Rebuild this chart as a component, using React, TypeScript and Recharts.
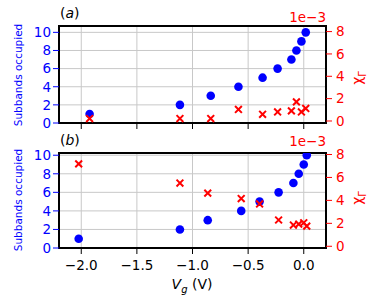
import { ScatterChart, Scatter, XAxis, YAxis, CartesianGrid, ReferenceArea } from "recharts";

// panel (a)
const vgA = [-1.925, -1.113, -0.836, -0.587, -0.37, -0.235, -0.111, -0.066, -0.021, 0.018];
const subbandsA = [1, 2, 3, 4, 5, 6, 7, 8, 9, 10];
const chiA = [0.22, 0.22, 0.22, 1.03, 0.6, 0.81, 0.9, 1.71, 0.81, 1.12];

// panel (b)
const vgB = [-2.023, -1.113, -0.863, -0.562, -0.397, -0.226, -0.093, -0.045, 0.0, 0.027];
const subbandsB = [1, 2, 3, 4, 5, 6, 7, 8, 9, 10];
const chiB = [7.18, 5.51, 4.63, 4.16, 3.69, 2.29, 1.85, 1.93, 2.05, 1.76];

const xTicks = [-2.0, -1.5, -1.0, -0.5, 0.0];
const leftTicks = [0, 2, 4, 6, 8, 10];
const rightTicks = [0, 2, 4, 6, 8];

const BLUE = "#0000ff";
const RED = "#ff0000";
const FONT = "DejaVu Sans";
const FS = 13.5;

const fmtX = (v: number) => (v < 0 ? "\u2212" + Math.abs(v).toFixed(1) : v.toFixed(1));

const Dot = (p: any) => <circle cx={p.cx} cy={p.cy} r={4.3} fill={BLUE} />;
const Cross = (p: any) => {
  const s = 3.4;
  return (
    <path
      d={`M${p.cx - s},${p.cy - s}L${p.cx + s},${p.cy + s}M${p.cx - s},${p.cy + s}L${p.cx + s},${p.cy - s}`}
      stroke={RED}
      strokeWidth={2}
      fill="none"
    />
  );
};

function Panel({ vg, sub, chi, leftMax, rightMin, rightMax, top, plotH, height, showX }: any) {
  const blue = vg.map((x: number, i: number) => ({ x, y: sub[i] }));
  const red = vg.map((x: number, i: number) => ({ x, y: chi[i] }));
  return (
    <ScatterChart
      width={374}
      height={height}
      margin={{ top, right: 0, bottom: 0, left: 0 }}
      style={{ fontFamily: FONT }}
    >
      <CartesianGrid xAxisId="x" yAxisId="l" stroke="#c8c8c8" strokeWidth={1} />
      <XAxis
        xAxisId="x"
        type="number"
        dataKey="x"
        domain={[-2.2, 0.2]}
        ticks={xTicks}
        interval={0}
        allowDataOverflow
        height={height - top - plotH}
        axisLine={false}
        tickLine={{ stroke: "#000" }}
        tickSize={6}
        tickMargin={6}
        tick={showX ? { fill: "#000", fontSize: FS } : () => <g />}
        tickFormatter={fmtX}
      />
      <YAxis
        yAxisId="l"
        type="number"
        dataKey="y"
        domain={[0, leftMax]}
        ticks={leftTicks}
        interval={0}
        allowDataOverflow
        width={59}
        axisLine={false}
        tickLine={{ stroke: BLUE }}
        tickSize={6}
        tickMargin={2}
        tick={{ fill: BLUE, fontSize: FS }}
      />
      <YAxis
        yAxisId="r"
        orientation="right"
        type="number"
        dataKey="y"
        domain={[rightMin, rightMax]}
        ticks={rightTicks}
        interval={0}
        allowDataOverflow
        width={48}
        axisLine={false}
        tickLine={{ stroke: RED }}
        tickSize={6}
        tickMargin={4}
        tick={{ fill: RED, fontSize: FS }}
      />
      <ReferenceArea
        xAxisId="x"
        yAxisId="l"
        x1={-2.2}
        x2={0.2}
        y1={0}
        y2={leftMax}
        fill="none"
        stroke="#000"
        strokeWidth={2}
        ifOverflow="visible"
      />
      <Scatter xAxisId="x" yAxisId="l" data={blue} shape={Dot} isAnimationActive={false} />
      <Scatter xAxisId="x" yAxisId="r" data={red} shape={Cross} isAnimationActive={false} />
    </ScatterChart>
  );
}

const abs = (s: any): any => ({ position: "absolute", whiteSpace: "nowrap", lineHeight: 1, ...s });
const rot = (x: number, y: number, color: string, fs: number): any =>
  abs({ left: x, top: y, color, fontSize: fs, transform: "translate(-50%, -50%) rotate(-90deg)" });

export default function App() {
  return (
    <div
      style={{
        position: "absolute",
        left: 0,
        top: 0,
        width: 374,
        height: 299,
        background: "#fff",
        fontFamily: FONT,
        overflow: "hidden",
      }}
    >
      <div style={abs({ left: 0, top: 0 })}>
        <Panel vg={vgA} sub={subbandsA} chi={chiA} leftMax={10.7} rightMin={-0.18} rightMax={8.5} top={26} plotH={97} height={140} showX={false} />
      </div>
      <div style={abs({ left: 0, top: 128 })}>
        <Panel vg={vgB} sub={subbandsB} chi={chiB} leftMax={10.24} rightMin={-0.15} rightMax={8.13} top={25} plotH={95} height={171} showX={true} />
      </div>

      <div style={abs({ left: 60, top: 6, fontSize: 14 })}>
        (<i>a</i>)
      </div>
      <div style={abs({ left: 60, top: 133, fontSize: 14 })}>
        (<i>b</i>)
      </div>

      <div style={rot(18, 75, BLUE, 10.5)}>Subbands occupied</div>
      <div style={rot(18, 200, BLUE, 10.5)}>Subbands occupied</div>

      <div style={rot(359, 78, RED, 14)}>
        χ<sub style={{ fontSize: 10 }}>Γ</sub>
      </div>
      <div style={rot(359, 198, RED, 14)}>
        χ<sub style={{ fontSize: 10 }}>Γ</sub>
      </div>

      <div style={abs({ right: 374 - 326, top: 11, color: RED, fontSize: FS })}>1e{"\u2212"}3</div>
      <div style={abs({ right: 374 - 326, top: 135, color: RED, fontSize: FS })}>1e{"\u2212"}3</div>

      <div style={abs({ left: 192, top: 286, fontSize: 14, transform: "translate(-50%, -50%)" })}>
        <i>V</i>
        <sub style={{ fontSize: 10 }}>
          <i>g</i>
        </sub>{" "}
        (V)
      </div>
    </div>
  );
}
